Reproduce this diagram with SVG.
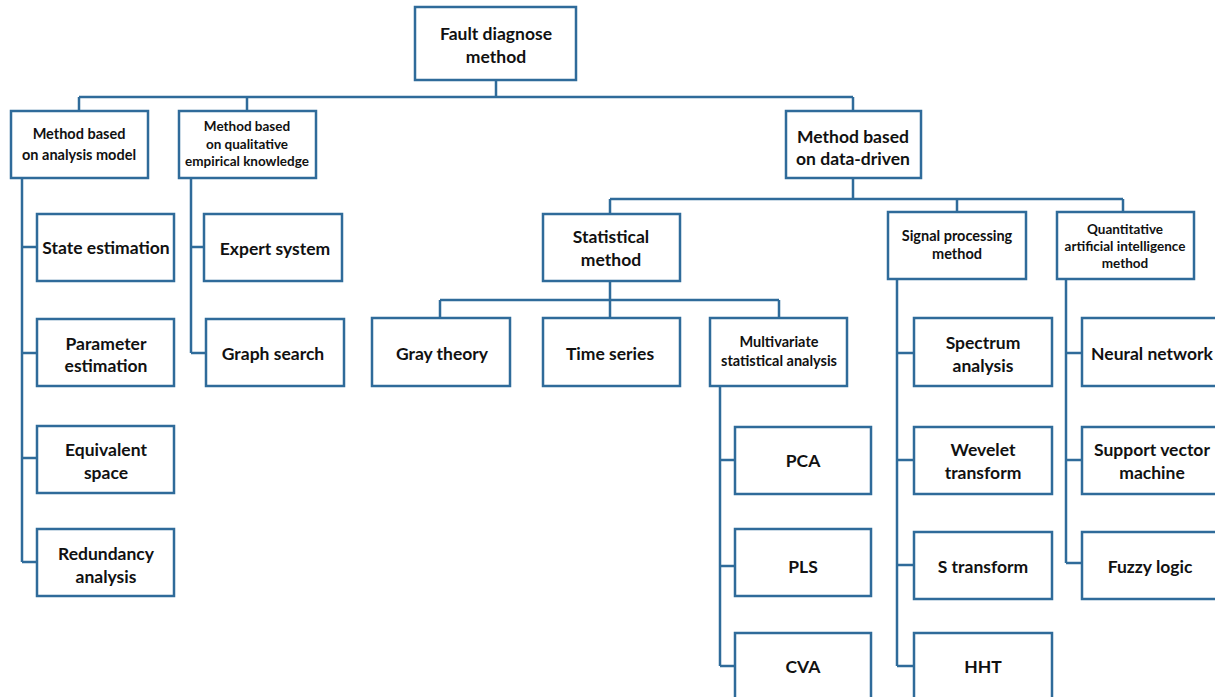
<svg xmlns="http://www.w3.org/2000/svg" width="1215" height="697" viewBox="0 0 1215 697">
<style>
rect{fill:#fff;stroke:#2f6b9a;stroke-width:2.5}
.c path{fill:none;stroke:#2f6b9a;stroke-width:2.5}
text{font-family:Lato,"Open Sans",sans-serif;font-weight:bold;fill:#111;text-anchor:middle;dominant-baseline:central}
.l{font-size:17.5px}
.s{font-size:14.5px}
.xs{font-size:13.5px}
</style>
<rect x="0" y="0" width="1215" height="697" style="fill:#fff;stroke:none"/>
<g class="c" id="connectors">
<path d="M496 80V97M79 97H853M79 97V111M247 97V111M853 97V111"/>
<path d="M853 178V199M610 199H1123M610 199V214M957 199V212M1123 199V212"/>
<path d="M610 281V300M440 300H779M440 300V318M610 300V318M779 300V318"/>
<path d="M22 178V562M22 247H37M22 353H37M22 458H37M22 562H37"/>
<path d="M191 178V353M191 247H204M191 353H206"/>
<path d="M720 386V666M720 460H735M720 566H735M720 666H735"/>
<path d="M897 279V666M897 353H914M897 460H914M897 565H914M897 666H914"/>
<path d="M1066 279V563M1066 353H1082M1066 460H1082M1066 563H1082"/>
</g>
<g id="root"><rect x="415" y="7" width="161" height="73"/><text class="l" x="496" y="33">Fault diagnose</text><text class="l" x="496" y="56">method</text></g>
<g id="analysis"><rect x="11" y="111" width="137" height="67"/><text class="s" x="79" y="133">Method based</text><text class="s" x="79" y="154">on analysis model</text></g>
<g id="qualitative"><rect x="179" y="111" width="137" height="67"/><text class="xs" x="247" y="126">Method based</text><text class="xs" x="247" y="144">on qualitative</text><text class="xs" x="247" y="161">empirical knowledge</text></g>
<g id="datadriven"><rect x="786" y="111" width="135" height="67"/><text class="l" x="853" y="136">Method based</text><text class="l" x="853" y="158">on data-driven</text></g>
<g id="statistical"><rect x="543" y="214" width="137" height="67"/><text class="l" x="611" y="236">Statistical</text><text class="l" x="611" y="259">method</text></g>
<g id="signal"><rect x="888" y="212" width="138" height="67"/><text class="s" x="957" y="235">Signal processing</text><text class="s" x="957" y="253">method</text></g>
<g id="quant"><rect x="1057" y="212" width="137" height="67"/><text class="xs" x="1125" y="229">Quantitative</text><text class="xs" x="1125" y="246">artificial intelligence</text><text class="xs" x="1125" y="263">method</text></g>
<g id="state"><rect x="37" y="214" width="137" height="67"/><text class="l" x="106" y="247">State estimation</text></g>
<g id="parameter"><rect x="37" y="319" width="137" height="67"/><text class="l" x="106" y="343">Parameter</text><text class="l" x="106" y="365">estimation</text></g>
<g id="equivalent"><rect x="37" y="426" width="137" height="67"/><text class="l" x="106" y="449">Equivalent</text><text class="l" x="106" y="472">space</text></g>
<g id="redundancy"><rect x="37" y="529" width="137" height="67"/><text class="l" x="106" y="553">Redundancy</text><text class="l" x="106" y="576">analysis</text></g>
<g id="expert"><rect x="204" y="214" width="138" height="67"/><text class="l" x="275" y="248">Expert system</text></g>
<g id="graph"><rect x="206" y="319" width="138" height="67"/><text class="l" x="273" y="353">Graph search</text></g>
<g id="gray"><rect x="372" y="318" width="138" height="68"/><text class="l" x="442" y="353">Gray theory</text></g>
<g id="timeseries"><rect x="543" y="318" width="137" height="68"/><text class="l" x="610" y="353">Time series</text></g>
<g id="multivariate"><rect x="710" y="318" width="137" height="68"/><text class="s" x="779" y="341">Multivariate</text><text class="s" x="779" y="360">statistical analysis</text></g>
<g id="pca"><rect x="735" y="427" width="136" height="67"/><text class="l" x="803" y="460">PCA</text></g>
<g id="pls"><rect x="735" y="529" width="136" height="67"/><text class="l" x="803" y="566">PLS</text></g>
<g id="cva"><rect x="735" y="633" width="136" height="70"/><text class="l" x="803" y="666">CVA</text></g>
<g id="spectrum"><rect x="914" y="318" width="138" height="68"/><text class="l" x="983" y="342">Spectrum</text><text class="l" x="983" y="365">analysis</text></g>
<g id="wevelet"><rect x="914" y="427" width="138" height="67"/><text class="l" x="983" y="449">Wevelet</text><text class="l" x="983" y="472">transform</text></g>
<g id="stransform"><rect x="914" y="532" width="138" height="67"/><text class="l" x="983" y="566">S transform</text></g>
<g id="hht"><rect x="914" y="633" width="138" height="70"/><text class="l" x="983" y="666">HHT</text></g>
<g id="neural"><rect x="1082" y="318" width="140" height="68"/><text class="l" x="1152" y="353">Neural network</text></g>
<g id="svm"><rect x="1082" y="427" width="140" height="67"/><text class="l" x="1152" y="449">Support vector</text><text class="l" x="1152" y="472">machine</text></g>
<g id="fuzzy"><rect x="1082" y="532" width="140" height="67"/><text class="l" x="1150" y="566">Fuzzy logic</text></g>
</svg>
